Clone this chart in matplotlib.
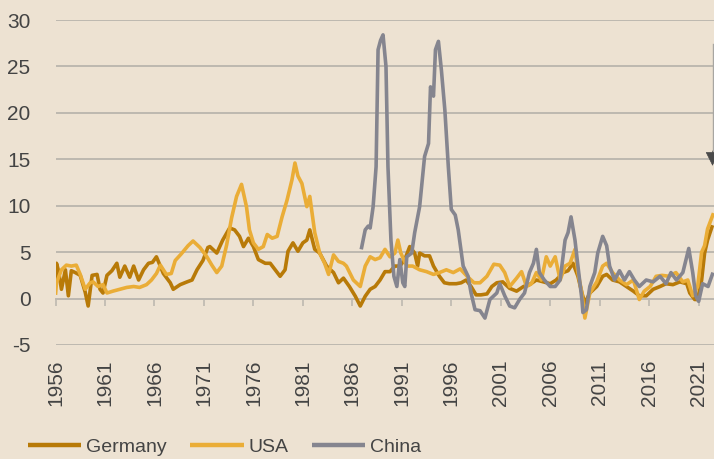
import matplotlib
matplotlib.use("Agg")
import matplotlib.pyplot as plt
import matplotlib.transforms as mtransforms

# ---------------------------------------------------------------------------
# data: inflation, % y/y
# ---------------------------------------------------------------------------
germany_years = [1956.0, 1956.1, 1956.3, 1956.6, 1957.0, 1957.3, 1957.6, 1958.0, 1958.5,
                 1959.0, 1959.3, 1959.7, 1960.2, 1960.5, 1960.8, 1961.2, 1961.7, 1962.2,
                 1962.5, 1963.0, 1963.5, 1963.9, 1964.4, 1964.9, 1965.4, 1965.8, 1966.2,
                 1966.9, 1967.6, 1967.9, 1968.6, 1969.3, 1969.8, 1970.3, 1970.9, 1971.4,
                 1971.6, 1972.3, 1972.9, 1973.6, 1974.1, 1974.6, 1975.0, 1975.5, 1976.0,
                 1976.5, 1977.2, 1977.7, 1978.2, 1978.7, 1979.2, 1979.5, 1980.0, 1980.5,
                 1981.0, 1981.4, 1981.7, 1982.2, 1982.7, 1983.4, 1984.1, 1984.6, 1985.1,
                 1985.7, 1986.3, 1986.8, 1987.3, 1987.8, 1988.3, 1988.8, 1989.3, 1989.8,
                 1990.3, 1990.8, 1991.3, 1991.8, 1992.3, 1992.6, 1992.8, 1993.3, 1993.8,
                 1994.2, 1994.8, 1995.3, 1995.8, 1996.5, 1997.0, 1997.5, 1998.0, 1998.5,
                 1999.0, 1999.6, 2000.1, 2000.6, 2001.2, 2001.9, 2002.6, 2003.3, 2003.9,
                 2004.6, 2005.3, 2006.0, 2006.6, 2007.3, 2007.8, 2008.3, 2008.8, 2009.2,
                 2009.5, 2010.0, 2010.7, 2011.3, 2011.7, 2012.3, 2013.0, 2013.7, 2014.4,
                 2015.0, 2015.7, 2016.4, 2017.1, 2017.7, 2018.4, 2019.1, 2019.8, 2020.1,
                 2020.6, 2020.9, 2021.3, 2021.6, 2021.9, 2022.4]
germany_vals = [1.7, 3.8, 3.0, 1.0, 3.1, 0.3, 3.0, 2.8, 2.5,
                0.7, -0.8, 2.5, 2.6, 1.0, 0.6, 2.5, 3.0, 3.8,
                2.3, 3.5, 2.3, 3.5, 2.0, 3.1, 3.8, 3.9, 4.5,
                2.7, 1.7, 1.0, 1.5, 1.8, 2.0, 3.1, 4.1, 5.5,
                5.6, 4.9, 6.3, 7.6, 7.4, 6.7, 5.6, 6.5, 5.6,
                4.2, 3.8, 3.8, 3.1, 2.4, 3.1, 5.1, 6.0, 5.1,
                6.0, 6.3, 7.4, 5.3, 4.9, 3.5, 2.8, 1.7, 2.2,
                1.3, 0.25, -0.8, 0.25, 1.0, 1.3, 2.0, 2.9, 2.9,
                3.5, 3.5, 4.2, 5.6, 4.9, 3.5, 4.9, 4.6, 4.6,
                3.5, 2.4, 1.7, 1.6, 1.6, 1.7, 2.0, 1.3, 0.4,
                0.4, 0.5, 1.3, 1.7, 1.8, 1.1, 0.8, 1.3, 1.5,
                2.0, 1.8, 1.6, 2.0, 2.8, 3.0, 3.8, 2.4, 0.6,
                -0.5, 0.6, 1.3, 2.4, 2.6, 2.0, 1.8, 1.3, 0.8,
                0.3, 0.3, 1.0, 1.3, 1.6, 1.5, 1.8, 1.6, 0.6,
                -0.1, -0.1, 2.0, 4.9, 6.3, 7.9]

usa_years = [1956.0, 1956.1, 1956.6, 1957.1, 1957.6, 1958.1, 1958.5, 1959.0, 1959.5,
             1959.8, 1960.3, 1960.8, 1961.2, 1961.8, 1962.5, 1963.2, 1963.9, 1964.5,
             1965.2, 1965.7, 1966.2, 1966.6, 1966.9, 1967.2, 1967.7, 1968.1, 1968.7,
             1969.4, 1969.9, 1970.6, 1971.3, 1971.8, 1972.3, 1972.8, 1973.3, 1973.8,
             1974.3, 1974.8, 1975.3, 1975.6, 1976.0, 1976.5, 1977.0, 1977.4, 1977.9,
             1978.4, 1978.9, 1979.4, 1979.9, 1980.2, 1980.5, 1980.9, 1981.4, 1981.7,
             1982.2, 1982.7, 1983.2, 1983.6, 1984.1, 1984.6, 1985.1, 1985.4, 1986.1,
             1986.8, 1987.3, 1987.8, 1988.3, 1988.8, 1989.3, 1989.8, 1990.3, 1990.6,
             1990.9, 1991.5, 1992.1, 1992.8, 1993.5, 1994.2, 1994.8, 1995.5, 1996.2,
             1996.9, 1997.6, 1998.3, 1998.9, 1999.6, 2000.3, 2000.9, 2001.4, 2001.9,
             2002.6, 2003.1, 2003.6, 2004.1, 2004.6, 2005.1, 2005.6, 2006.0, 2006.5,
             2007.0, 2007.5, 2008.0, 2008.5, 2008.8, 2009.2, 2009.5, 2010.0, 2010.7,
             2011.3, 2011.7, 2012.3, 2013.0, 2013.7, 2014.4, 2015.0, 2015.5, 2016.1,
             2016.7, 2017.3, 2018.0, 2018.7, 2019.4, 2019.9, 2020.4, 2020.9, 2021.3,
             2021.6, 2021.9, 2022.5]
usa_vals = [0.4, 1.7, 3.1, 3.6, 3.5, 3.6, 2.6, 1.0, 1.7,
            1.8, 1.3, 1.5, 0.6, 0.8, 1.0, 1.2, 1.3, 1.2,
            1.5, 2.0, 2.7, 3.6, 3.1, 2.6, 2.7, 4.1, 4.8,
            5.7, 6.2, 5.5, 4.5, 3.6, 2.8, 3.5, 5.8, 8.7,
            11.0, 12.3, 9.9, 7.4, 6.0, 5.3, 5.6, 6.9, 6.5,
            6.7, 8.8, 10.6, 12.8, 14.6, 13.2, 12.4, 9.9, 11.0,
            7.1, 4.9, 3.8, 2.6, 4.7, 4.0, 3.8, 3.5, 2.0,
            1.3, 3.5, 4.5, 4.2, 4.4, 5.3, 4.5, 4.9, 6.3,
            4.9, 3.5, 3.5, 3.1, 2.9, 2.6, 2.8, 3.1, 2.8,
            3.2, 2.4, 1.7, 1.7, 2.4, 3.7, 3.6, 2.8, 1.3,
            2.2, 2.9, 1.3, 1.6, 2.8, 2.0, 4.5, 3.5, 4.5,
            2.0, 3.5, 3.8, 5.3, 2.8, 0.6, -2.1, 0.6, 1.8,
            3.5, 3.8, 2.8, 2.0, 1.5, 2.0, -0.1, 0.8, 1.3,
            2.4, 2.5, 2.4, 2.8, 1.8, 2.0, 0.3, 1.3, 5.0,
            5.7, 7.5, 9.2]

china_years = [1986.9, 1987.3, 1987.6, 1987.8, 1988.1, 1988.4, 1988.6, 1988.85, 1989.1,
               1989.4, 1989.6, 1989.9, 1990.2, 1990.5, 1990.8, 1991.1, 1991.3, 1991.5,
               1992.0, 1992.3, 1992.8, 1993.3, 1993.7, 1993.9, 1994.2, 1994.4, 1994.7,
               1995.0, 1995.35, 1995.7, 1996.0, 1996.4, 1996.7, 1997.2, 1997.7, 1998.0,
               1998.4, 1998.9, 1999.4, 1999.9, 2000.6, 2000.9, 2001.4, 2001.9, 2002.4,
               2002.9, 2003.4, 2003.9, 2004.3, 2004.6, 2004.9, 2005.4, 2006.0, 2006.5,
               2007.0, 2007.5, 2007.8, 2008.1, 2008.5, 2008.8, 2009.2, 2009.3, 2009.65,
               2010.0, 2010.5, 2010.8, 2011.3, 2011.7, 2012.0, 2012.5, 2013.0, 2013.5,
               2014.0, 2014.5, 2015.0, 2015.7, 2016.4, 2017.1, 2017.7, 2018.2, 2018.75,
               2019.4, 2020.0, 2020.4, 2020.7, 2021.0, 2021.4, 2021.95, 2022.45]
china_vals = [5.3, 7.4, 7.8, 7.6, 9.9, 14.2, 26.8, 27.8, 28.4,
              25.0, 14.2, 6.3, 2.4, 1.3, 4.2, 1.7, 1.3, 4.5,
              4.9, 7.1, 9.9, 15.3, 16.7, 22.8, 21.8, 26.8, 27.7,
              24.6, 20.3, 14.2, 9.6, 9.0, 7.4, 3.5, 2.4, 0.6,
              -1.2, -1.3, -2.1, -0.1, 0.6, 1.6, 0.3, -0.8, -1.0,
              -0.1, 0.6, 2.8, 3.8, 5.3, 2.8, 2.0, 1.3, 1.3,
              2.0, 6.3, 7.1, 8.8, 6.3, 3.5, -0.1, -1.5, -1.2,
              1.3, 2.8, 4.9, 6.7, 5.7, 3.5, 2.0, 3.0, 2.0,
              2.9, 2.0, 1.3, 2.0, 1.8, 2.4, 1.6, 2.8, 2.0,
              2.8, 5.4, 2.8, 0.3, -0.3, 1.6, 1.3, 2.8]

series_names = ["Germany", "USA", "China"]
year_ticks = list(range(1956, 2022, 5))
value_ticks = [-5, 0, 5, 10, 15, 20, 25, 30]

# arrow at the right edge (cut off in the original)
arrow_x = 2022.4
arrow_top, arrow_tip = 27.4, 14.3

# ---------------------------------------------------------------------------
# style
# ---------------------------------------------------------------------------
BG = "#ede2d2"
GRID = "#bdb8b0"
TXT = "#444444"
COLORS = ["#b87a08", "#eaad37", "#85858f"]

plt.rcParams["font.family"] = ["Liberation Sans", "DejaVu Sans"]

fig = plt.figure(figsize=(7.14, 4.59), dpi=100, facecolor=BG)
ax = fig.add_axes([55.5 / 714, 1 - 345 / 459, 1 - 55.5 / 714, (345 - 20) / 459])
ax.set_facecolor(BG)

for (xs, ys), name, col in zip([(germany_years, germany_vals),
                                (usa_years, usa_vals),
                                (china_years, china_vals)], series_names, COLORS):
    ax.plot(xs, ys, color=col, lw=2.6, label=name, solid_joinstyle="round",
            solid_capstyle="butt", zorder=3)

ax.set_xlim(1956, 2022.55)
ax.set_ylim(-5, 30)
ax.set_yticks(value_ticks)
ax.set_yticklabels([str(v) for v in value_ticks])
ax.grid(axis="y", color=GRID, lw=1.4, zorder=1)
ax.tick_params(axis="y", length=0, pad=18, labelsize=15, labelcolor=TXT)

for s in ["top", "right", "left"]:
    ax.spines[s].set_visible(False)
# bottom spine sits on the zero line and carries the tick marks
ax.spines["bottom"].set_position(("data", 0))
ax.spines["bottom"].set_color(GRID)
ax.spines["bottom"].set_linewidth(1.4)
ax.set_xticks(year_ticks)
ax.tick_params(axis="x", direction="out", length=5, width=1.2, color=GRID,
               labelbottom=False)

# year labels below the -5 line
trans = mtransforms.blended_transform_factory(ax.transData, ax.transAxes)
for yr in year_ticks:
    ax.text(yr, -0.045, str(yr), transform=trans, rotation=90, ha="center",
            va="top", fontsize=15, color=TXT)

# thin grey shaft, dark head
ax.plot([arrow_x, arrow_x], [arrow_top, arrow_tip + 1.5], color="#a8a6a2",
        lw=1.0, clip_on=False, zorder=4)
ax.annotate("", xy=(arrow_x, arrow_tip), xytext=(arrow_x, arrow_tip + 1.6),
            arrowprops=dict(arrowstyle="-|>,head_length=0.9,head_width=0.45",
                            color="#4a4a4a", lw=0.5, shrinkA=0, shrinkB=0),
            annotation_clip=False, zorder=5)

leg = fig.legend(loc="center left", bbox_to_anchor=(20 / 714, 1 - 447 / 459),
                 ncol=3, frameon=False, fontsize=14, handlelength=2.75,
                 handletextpad=0.25, columnspacing=1.2, borderaxespad=0,
                 labelcolor=TXT)
for h in leg.get_lines():
    h.set_linewidth(3.2)

fig.savefig("out.png", dpi=100, facecolor=BG)
